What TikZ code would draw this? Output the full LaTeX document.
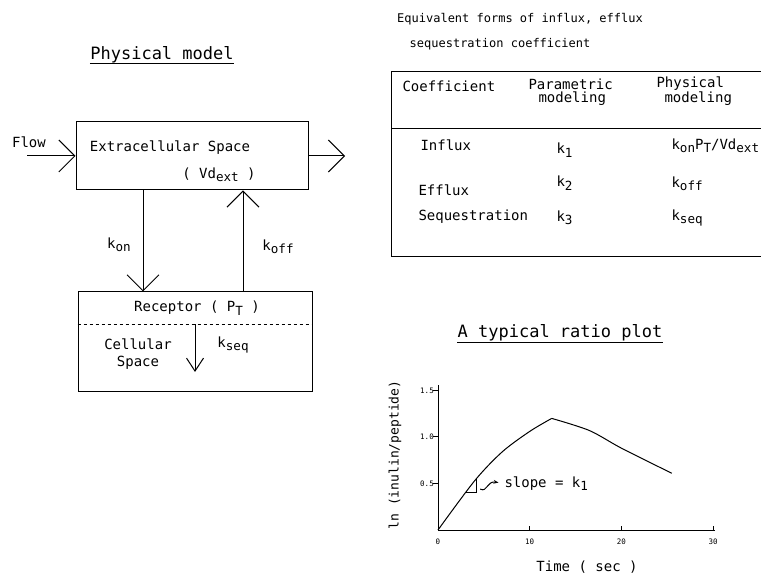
\documentclass[tikz,border=0pt]{standalone}
\usepackage{fontspec}
\usepackage{graphicx}
\setmainfont{DejaVu Sans Mono}
\usetikzlibrary{arrows.meta, positioning}

% pedice abbassato, come nella figura originale
\newcommand{\pedice}[1]{\raisebox{-0.45ex}{\scalebox{0.9}{#1}}}

\begin{document}
\begin{tikzpicture}[x=1pt, y=-1pt, line width=1pt,
			freccia/.style={-{Straight Barb[length=16pt, width=32pt, line width=1pt]}},
			frecciina/.style={-{Straight Barb[length=13pt, width=17pt, line width=1pt]}},
			scatola/.style={draw, rectangle, inner sep=0pt},
			testo/.style={font=\fontsize{14}{17}\selectfont, inner sep=0pt},
			titolo/.style={font=\fontsize{17}{20}\selectfont, inner sep=0pt, anchor=base},
			piccolo/.style={font=\fontsize{12}{15}\selectfont, inner sep=0pt},
			tacca/.style={font=\fontsize{7.5}{9}\selectfont, inner sep=0pt}]
			
			\useasboundingbox (0,0) rectangle (761,577);
			
			% --- Modello fisico ---
			\node[titolo] (tfis) at (162,60) {Physical model};
			\draw ([yshift=-4pt]tfis.base west) -- ([yshift=-4pt]tfis.base east);
			
			% Spazio extracellulare
			\node[scatola, minimum width=232pt, minimum height=68pt] (ext) at (192,156) {};
			\node[testo] (extnome) at (170,148) {Extracellular Space};
			\node[testo] (extvol) at (219,175) {( Vd\pedice{ext} )};
			
			% Flusso in ingresso e in uscita
			\node[testo] (flow) at (29,142) {Flow};
			\coordinate (fin) at (27,156);
			\coordinate (fout) at (345,156);
			\draw[freccia] (fin) -- (ext.west);
			\draw[freccia] (ext.east) -- (fout);
			
			% Recettore e spazio cellulare
			\node[scatola, minimum width=234pt, minimum height=100pt] (rec) at (195,342) {};
			\draw[dashed] ([yshift=-33pt]rec.north west) -- ([yshift=-33pt]rec.north east);
			\node[testo] (recnome) at (197,308) {Receptor ( P\pedice{T} )};
			\node[testo, align=center] (cell) at (138,354) {Cellular\\Space};
			
			% Scambi
			\draw[freccia] ([xshift=-49pt]ext.south) -- ([xshift=-52pt]rec.north);
			\draw[freccia] ([xshift=48pt]rec.north) -- ([xshift=51pt]ext.south);
			\node[testo] (kon) at (119,245) {k\pedice{on}};
			\node[testo] (koff) at (278,247) {k\pedice{off}};
			\coordinate (seqfine) at (195,372);
			\draw[frecciina] ([yshift=-33pt]rec.north) -- (seqfine);
			\node[testo] (kseq) at (233,345) {k\pedice{seq}};
			
			% --- Tabella dei coefficienti ---
			\node[piccolo] (ttab1) at (520,19) {Equivalent forms of influx, efflux};
			\node[piccolo] (ttab2) at (500,44) {sequestration coefficient};
			\draw (761,72) -- (391,72) -- (391,257) -- (761,257);
			\draw (391,129) -- (761,129);
			
			\node[testo, anchor=west] (hcoef) at (402,86) {Coefficient};
			\node[testo, anchor=west] (hpar1) at (528,84) {Parametric};
			\node[testo, anchor=west] (hpar2) at (538,99) {modeling};
			\node[testo, anchor=west] (hfis1) at (656,84) {Physical};
			\node[testo, anchor=west] (hfis2) at (664,99) {modeling};
			
			\node[testo, anchor=west] (influx) at (420,145) {Influx};
			\node[testo, anchor=west] (kuno) at (556,150) {k\pedice{1}};
			\node[testo, anchor=west] (kunof) at (671,146) {k\pedice{on}P\pedice{T}/Vd\pedice{ext}};
			
			\node[testo, anchor=west] (efflux) at (418,190) {Efflux};
			\node[testo, anchor=west] (kdue) at (556,183) {k\pedice{2}};
			\node[testo, anchor=west] (kduef) at (671,184) {k\pedice{off}};
			
			\node[testo, anchor=west] (seq) at (418,217) {Sequestration};
			\node[testo, anchor=west] (ktre) at (556,218) {k\pedice{3}};
			\node[testo, anchor=west] (ktref) at (671,218) {k\pedice{seq}};
			
			% --- Grafico del rapporto ---
			\node[titolo] (tgraf) at (560,338) {A typical ratio plot};
			\draw ([yshift=-5pt]tgraf.base west) -- ([yshift=-5pt]tgraf.base east);
			
			\begin{scope}[shift={(438,530)}, x=9.17pt, y=93pt]
				% assi
				\coordinate (o) at (0,0);
				\coordinate (xfine) at (30.2,0);
				\coordinate (yfine) at (0,1.56);
				\draw (xfine) -- (o) -- (yfine);
				\foreach \t in {10,20,30}
					\draw (\t,0) -- (\t,0.04);
				\foreach \v in {0.5,1.0,1.5}
					\draw (0,\v) -- (-0.5,\v);
				\foreach \t in {0,10,20,30}
					\node[tacca] (xt\t) at (\t,-0.13) {\t};
				\node[tacca] (yt1) at (-1.2,0.5) {0.5};
				\node[tacca] (yt2) at (-1.2,1.0) {1.0};
				\node[tacca] (yt3) at (-1.2,1.5) {1.5};
				
				% curva
				\draw plot[smooth] coordinates {(0,0) (4,0.53) (7,0.84) (10,1.06) (12.4,1.2)};
				\draw plot[smooth] coordinates {(12.4,1.2) (16.5,1.07) (20,0.88) (25.5,0.61)};
				
				% triangolo della pendenza
				\draw (3,0.40) -- (4.2,0.40) -- (4.2,0.56);
				\coordinate (pin) at (4.6,0.44);
				\coordinate (pfin) at (6.6,0.51);
				\draw[-{Stealth[length=5pt]}] (pin) .. controls (5.4,0.40) and (5.3,0.53) .. (pfin);
				\node[testo, anchor=west] (slope) at (7.2,0.50) {slope = k\pedice{1}};
			\end{scope}
			
			\node[testo, rotate=90, font=\fontsize{13}{15}\selectfont] (ylab) at (395,455) {ln (inulin/peptide)};
			\node[testo] (xlab) at (587,567) {Time ( sec )};
		\end{tikzpicture}
\end{document}
